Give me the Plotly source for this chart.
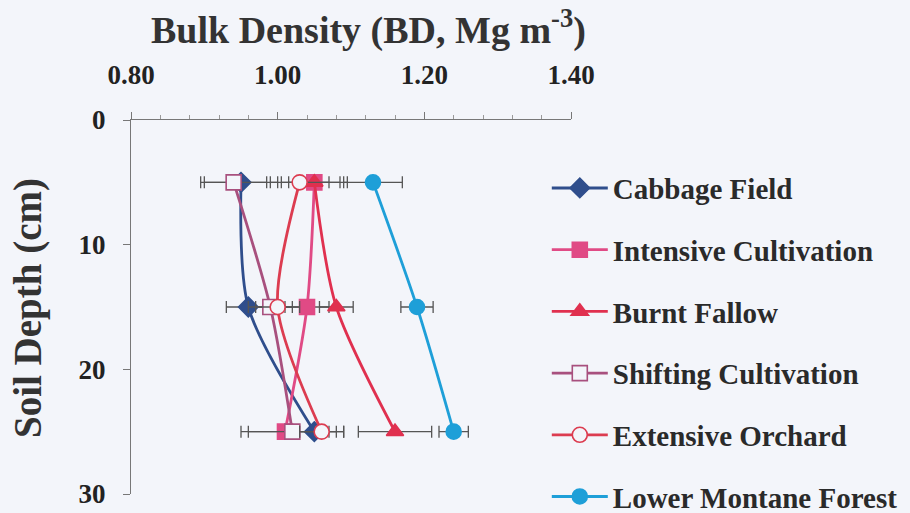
import plotly.graph_objects as go

# Soil depth (cm) of each sampling layer
depths = [5, 15, 25]

# Bulk density (Mg m-3) per land use, with standard error
cabbage_bd = [0.95, 0.96, 1.05]
cabbage_se = [0.05, 0.03, 0.04]
intensive_bd = [1.05, 1.04, 1.01]
intensive_se = [0.035, 0.03, 0.06]
burnt_bd = [1.05, 1.08, 1.16]
burnt_se = [0.045, 0.023, 0.05]
shifting_bd = [0.94, 0.99, 1.02]
shifting_se = [0.045, 0.03, 0.06]
orchard_bd = [1.03, 1.00, 1.06]
orchard_se = [0.04, 0.03, 0.03]
forest_bd = [1.13, 1.19, 1.24]
forest_se = [0.04, 0.022, 0.02]

series_names = ["Cabbage Field", "Intensive Cultivation", "Burnt Fallow",
                "Shifting Cultivation", "Extensive Orchard", "Lower Montane Forest"]

x_ticks = [0.80, 1.00, 1.20, 1.40]
y_ticks = [0, 10, 20, 30]

BG = "#F3F5FA"
SERIF = "Liberation Serif, Times New Roman, serif"

styles = [
    dict(color="#2F4E8C", symbol="diamond", size=15, open=False),
    dict(color="#E04A85", symbol="square", size=15, open=False),
    dict(color="#E0304F", symbol="triangle-up", size=15, open=False),
    dict(color="#A8507E", symbol="square", size=15, open=True),
    dict(color="#DC3C50", symbol="circle", size=15, open=True),
    dict(color="#1E9FD8", symbol="circle", size=15, open=False),
]

values = [cabbage_bd, intensive_bd, burnt_bd, shifting_bd, orchard_bd, forest_bd]
errors = [cabbage_se, intensive_se, burnt_se, shifting_se, orchard_se, forest_se]

fig = go.Figure()
for i, (name, bd, se, st) in enumerate(zip(series_names, values, errors, styles)):
    fig.add_trace(go.Scatter(
        x=bd, y=depths, name=name, legendgroup=f"g{i}",
        mode="lines+markers",
        line=dict(color=st["color"], width=2.8, shape="spline", smoothing=0.8),
        marker=dict(symbol=st["symbol"], size=st["size"],
                    color=BG if st["open"] else st["color"],
                    line=dict(color=st["color"], width=1.6)),
        error_x=dict(type="data", array=se, visible=True, color="#555555",
                     thickness=1.3, width=6),
    ))

fig.update_layout(
    width=910, height=513,
    margin=dict(l=131, r=339, t=120, b=19, autoexpand=False),
    paper_bgcolor=BG, plot_bgcolor=BG,
    font=dict(family=SERIF, color="#222222"),
    showlegend=True,
    legend=dict(x=0.945, xanchor="left", y=0.886, yanchor="top",
                bgcolor="rgba(0,0,0,0)", itemwidth=56, tracegroupgap=21,
                maxheight=520,
                font=dict(family=SERIF, size=29, color="#2A2A2A", weight="bold")),
)

fig.update_xaxes(
    side="top", range=[0.80, 1.40], tickvals=x_ticks,
    ticktext=[f"{v:.2f}" for v in x_ticks],
    tickfont=dict(family=SERIF, size=27, color="#222222", weight="bold"),
    ticks="outside", ticklen=7, tickcolor="#777777", ticklabelstandoff=17,
    minor=dict(dtick=0.04, ticks="outside", ticklen=4, tickcolor="#999999"),
    showline=True, linecolor="#777777", linewidth=1,
    showgrid=False, zeroline=False,
)
fig.update_yaxes(
    range=[30, 0], tickvals=y_ticks,
    tickfont=dict(family=SERIF, size=27, color="#222222", weight="bold"),
    ticks="outside", ticklen=7, tickcolor="#777777", ticklabelstandoff=12,
    showline=True, linecolor="#777777", linewidth=1,
    showgrid=False, zeroline=False,
)

# Axis titles
fig.add_annotation(
    text="Bulk Density (BD, Mg m<sup>-3</sup>)", xref="paper", yref="paper",
    x=(368 - 131) / 440, y=1 + (120 - 28) / 374, xanchor="center", yanchor="middle",
    showarrow=False, font=dict(family=SERIF, size=38, color="#333333", weight="bold"),
)
fig.add_annotation(
    text="Soil Depth (cm)", xref="paper", yref="paper", textangle=-90,
    x=(28 - 131) / 440, y=(494 - 308) / 374, xanchor="center", yanchor="middle",
    showarrow=False, font=dict(family=SERIF, size=39, color="#333333", weight="bold"),
)

fig.write_html("out.html")
